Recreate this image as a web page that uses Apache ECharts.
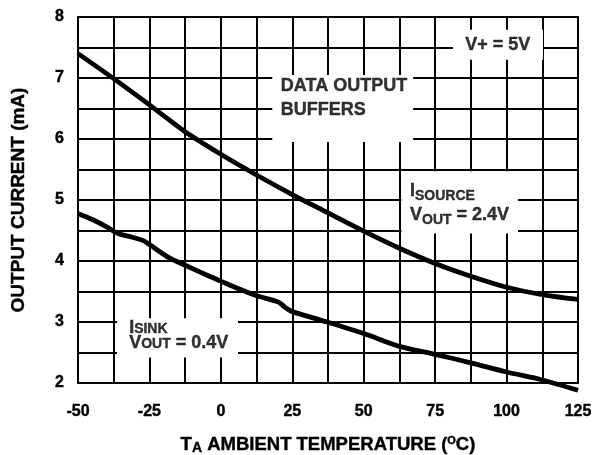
<!DOCTYPE html>
<html><head><meta charset="utf-8">
<script src="https://cdn.jsdelivr.net/npm/echarts@6/dist/echarts.min.js"></script>
<style>html,body{margin:0;padding:0;background:#fff}#c{width:597px;height:455px}</style>
</head><body><div id="c"></div>
<script>
// Tick labels
const xTickLabels = [-50, -25, 0, 25, 50, 75, 100, 125];
const yTickLabels = [2, 3, 4, 5, 6, 7, 8];

// ISOURCE, VOUT = 2.4V
const sourceTemp    = [-50, -37.5, -25, -12.5, 0, 12.5, 25, 37.5, 50, 62.5, 75, 87.5, 100, 112.5, 125];
const sourceCurrent = [7.40, 6.99, 6.56, 6.12, 5.75, 5.41, 5.09, 4.79, 4.49, 4.21, 3.96, 3.75, 3.57, 3.45, 3.37];

// ISINK, VOUT = 0.4V
const sinkTemp    = [-50, -45, -40, -36, -31, -27, -25, -18, -12.5, -5, 0, 6, 12.5, 20, 22.5, 25, 35, 50, 62.5, 75, 87.5, 100, 112.5, 125];
const sinkCurrent = [4.78, 4.68, 4.56, 4.45, 4.39, 4.33, 4.27, 4.05, 3.93, 3.77, 3.67, 3.55, 3.43, 3.33, 3.24, 3.17, 3.03, 2.81, 2.60, 2.47, 2.33, 2.18, 2.05, 1.88];

// Texts
const xTitle = '{b|T}{s|A}{b| AMBIENT TEMPERATURE (}{o|O}{b|C)}';
const yTitle = 'OUTPUT CURRENT (mA)';
const noteBuffers = '{b|DATA OUTPUT}\n{b|BUFFERS}';
const noteSupply = '{b|V+ = 5V}';
const noteSource = '{b|I}{s|SOURCE}\n{b|V}{s|OUT}{b| = 2.4V}';
const noteSink = '{c|I}{t|SINK}\n{c|V}{t|OUT}{c| = 0.4V}';

const FF = '"Liberation Sans", Arial, Helvetica, sans-serif';
const INK = { color: '#000', textBorderColor: '#000', textBorderWidth: 0.4 };

const pairs = (xs, ys) => xs.map((x, i) => [x, ys[i]]);

// annotation layout (data coordinates)
const notes = [
  { text: noteBuffers, at: [21, 6.67], box: [[18, 5.95], [67.3, 7.05]] },
  { text: noteSupply,  at: [85.5, 7.54], box: [[81.25, 7.30], [112.75, 7.79]] },
  { text: noteSource,  at: [66.2, 4.95], box: [[63.2, 4.45], [104, 5.47]] },
  { text: noteSink,    at: [-32.1, 2.77], box: [[-36.35, 2.42], [6.0, 3.06]] }
];

const rich = {
  b: Object.assign({ fontFamily: FF, fontWeight: 'bold', fontSize: 18, lineHeight: 24 }, INK),
  s: Object.assign({ fontFamily: FF, fontWeight: 'bold', fontSize: 14, lineHeight: 16, verticalAlign: 'bottom' }, INK),
  c: Object.assign({ fontFamily: FF, fontWeight: 'bold', fontSize: 18, lineHeight: 15 }, INK),
  t: Object.assign({ fontFamily: FF, fontWeight: 'bold', fontSize: 14, lineHeight: 7, verticalAlign: 'bottom' }, INK)
};

const chart = echarts.init(document.getElementById('c'), null, { renderer: 'canvas' });
chart.setOption({
  animation: false,
  backgroundColor: '#fff',
  grid: { left: 78, right: 19, top: 17, bottom: 72, outerBoundsMode: 'none', containLabel: false, show: true, borderColor: '#000', borderWidth: 2, backgroundColor: 'transparent' },
  xAxis: {
    type: 'value',
    min: xTickLabels[0], max: xTickLabels[xTickLabels.length - 1],
    interval: xTickLabels[1] - xTickLabels[0],
    axisLine: { show: true, lineStyle: { color: '#000', width: 2 } },
    axisTick: { show: false },
    minorTick: { show: false, splitNumber: 2 },
    splitLine: { show: true, lineStyle: { color: '#000', width: 2 } },
    minorSplitLine: { show: true, lineStyle: { color: '#000', width: 2 } },
    axisLabel: Object.assign({ fontFamily: FF, fontWeight: 'bold', fontSize: 16, lineHeight: 16, margin: 21 }, INK),
    name: xTitle,
    nameLocation: 'middle',
    nameGap: 52,
    nameTextStyle: {
      rich: {
        b: Object.assign({ fontFamily: FF, fontWeight: 'bold', fontSize: 18.5, lineHeight: 20 }, INK),
        s: Object.assign({ fontFamily: FF, fontWeight: 'bold', fontSize: 14, lineHeight: 12, verticalAlign: 'bottom' }, INK),
        o: Object.assign({ fontFamily: FF, fontWeight: 'bold', fontSize: 11, lineHeight: 12, verticalAlign: 'top' }, INK)
      }
    }
  },
  yAxis: {
    type: 'value',
    min: yTickLabels[0], max: yTickLabels[yTickLabels.length - 1],
    interval: yTickLabels[1] - yTickLabels[0],
    axisLine: { show: true, lineStyle: { color: '#000', width: 2 } },
    axisTick: { show: false },
    minorTick: { show: false, splitNumber: 2 },
    splitLine: { show: true, lineStyle: { color: '#000', width: 2 } },
    minorSplitLine: { show: true, lineStyle: { color: '#000', width: 2 } },
    axisLabel: Object.assign({ fontFamily: FF, fontWeight: 'bold', fontSize: 16, margin: 14 }, INK),
    name: yTitle,
    nameLocation: 'middle',
    nameGap: 50,
    nameTextStyle: Object.assign({ fontFamily: FF, fontWeight: 'bold', fontSize: 19, lineHeight: 19 }, INK)
  },
  series: [
    {
      name: 'notes',
      type: 'scatter',
      silent: true,
      symbolSize: 0,
      z: 1,
      data: notes.map(n => ({ value: n.at, text: n.text })),
      label: {
        show: true, position: 'right', distance: 0,
        formatter: p => p.data.text,
        rich: rich
      },
      markArea: {
        silent: true,
        itemStyle: { color: '#fff', opacity: 1, borderWidth: 0 },
        label: { show: false },
        data: notes.map(n => [{ coord: n.box[0] }, { coord: n.box[1] }])
      }
    },
    {
      name: 'ISOURCE',
      type: 'line',
      z: 3,
      data: pairs(sourceTemp, sourceCurrent),
      showSymbol: false, symbol: 'none',
      smooth: 0.3,
      clip: false,
      lineStyle: { color: '#000', width: 4.8 }
    },
    {
      name: 'ISINK',
      type: 'line',
      z: 3,
      data: pairs(sinkTemp, sinkCurrent),
      showSymbol: false, symbol: 'none',
      smooth: 0.3,
      clip: false,
      lineStyle: { color: '#000', width: 4.8 }
    }
  ]
});
</script>
</body></html>
